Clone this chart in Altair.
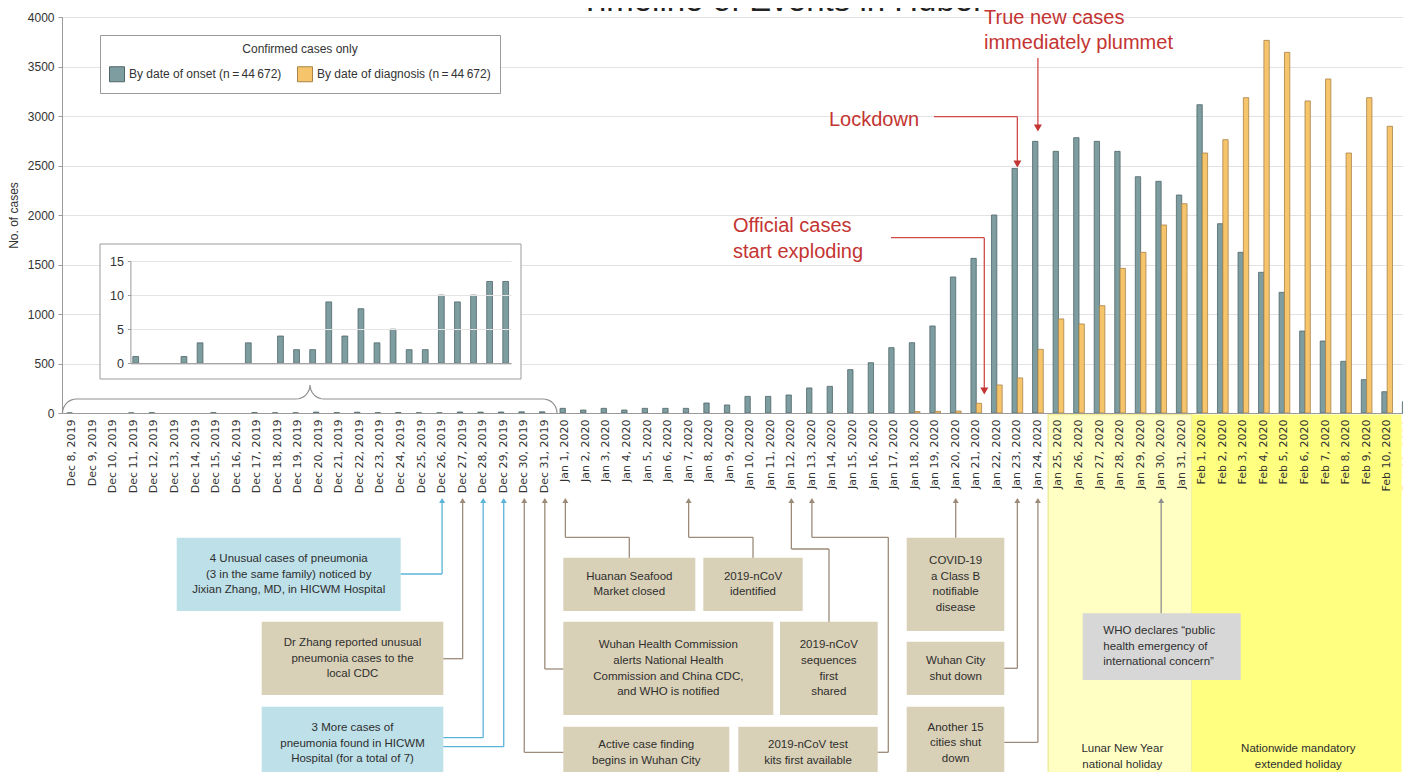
import altair as alt
import pandas as pd
import numpy as np

# ------------------------------------------------------------------ data
dec_days = list(range(8, 32))
jan_days = list(range(1, 32))
feb_days = list(range(1, 12))
dec_labels = [f"Dec {d}, 2019" for d in dec_days]
jan_labels = [f"Jan {d}, 2020" for d in jan_days]
feb_labels = [f"Feb {d}, 2020" for d in feb_days]
date_labels = dec_labels + jan_labels + feb_labels

onset_dec = [1, 0, 0, 1, 3, 0, 0, 3, 0, 4, 2, 2, 9, 4, 8, 3, 5, 2, 2, 10, 9, 10, 12, 12]
onset_jan = [47, 30, 47, 30, 47, 47, 47, 101, 81, 168, 168, 182, 253, 269, 438, 508,
             660, 710, 879, 1374, 1562, 2000, 2471, 2744, 2643, 2781, 2744, 2643,
             2387, 2340, 2202]
onset_feb = [3114, 1912, 1623, 1421, 1219, 828, 727, 522, 337, 215, 114]

diag_dec = [0, 0, 0, 0, 0, 0, 0, 0, 0, 0, 0, 0, 0, 0, 0, 0, 0, 0, 0, 0, 0, 0, 0, 0]
diag_jan = [0, 0, 0, 0, 0, 0, 0, 0, 0, 0, 0, 0, 0, 0, 0, 0, 0,
            15, 17, 20, 98, 283, 354, 643, 950, 899, 1084, 1461, 1623, 1899, 2114]
diag_feb = [2626, 2761, 3185, 3764, 3643, 3152, 3374, 2626, 3185, 2896, 2135]

SERIES = ["By date of onset (n\u2009=\u200944\u2009672)",
          "By date of diagnosis (n\u2009=\u200944\u2009672)"]
y_ticks = [0, 500, 1000, 1500, 2000, 2500, 3000, 3500, 4000]
inset_ticks = [0, 5, 10, 15]

onset = onset_dec + onset_jan + onset_feb
diag = diag_dec + diag_jan + diag_feb
rows = []
for lab, o, d in zip(date_labels, onset, diag):
    if o > 0:
        rows.append({"date": lab, "series": SERIES[0], "cases": o})
    if d > 0:
        rows.append({"date": lab, "series": SERIES[1], "cases": d})
bars_df = pd.DataFrame(rows)
inset_df = pd.DataFrame({"date": dec_labels, "cases": onset_dec})
inset_df = inset_df[inset_df.cases > 0]

# ------------------------------------------------------------------ layout
W, H = 1341, 396
XRANGE = 1356             # the last day runs past the right edge, as in the original
STEP = XRANGE / len(date_labels)
OX, OY = 62, 413          # page position of plot left edge / baseline
TOP = OY - H


def dx(label):
    return (date_labels.index(label) + 0.5) * STEP


def px(x):
    return dx(x) if isinstance(x, str) else x - OX


def py(y):
    return OY - y


TEAL, TEAL_D = "#7e9da0", "#4f6668"
ORANGE, ORANGE_D = "#f5c46b", "#a9834a"
RED = "#c43432"
RED_L = "#cf4a46"
BLUE_L, BROWN_L, GRAY_L = "#5ab4da", "#9c8b79", "#8e8e8e"
BLUE_B, TAN_B, GRAY_B = "#bde0e9", "#d9d1b7", "#d7d7d7"
TXT = "#2e2e2e"
FONT = "Liberation Sans"

# ------------------------------------------------------------------ main bars
main = alt.Chart(bars_df).mark_bar(strokeWidth=0.8).encode(
    x=alt.X("date:N", sort=date_labels,
            scale=alt.Scale(domain=date_labels, range=[0, XRANGE],
                            paddingInner=0.48, paddingOuter=0.24),
            axis=alt.Axis(title=None, labelAngle=270, labelAlign="right",
                          labelBaseline="middle", labelFont="DejaVu Sans",
                          labelFontSize=11, labelColor="#333333", labelPadding=6,
                          ticks=False, domainColor="#9a9a9a", domainWidth=1.2,
                          labelOverlap=False, grid=False, zindex=1)),
    xOffset=alt.XOffset("series:N", sort=SERIES, scale=alt.Scale(domain=SERIES)),
    y=alt.Y("cases:Q", scale=alt.Scale(domain=[0, 4000], nice=False),
            axis=alt.Axis(title="No. of cases", values=y_ticks, format="d", grid=True,
                          gridColor="#e2e2e2", domainColor="#9a9a9a",
                          tickColor="#9a9a9a", tickSize=4, labelPadding=4,
                          labelFont=FONT, labelFontSize=12, labelColor="#333333",
                          titleFont=FONT, titleFontSize=12, titleFontWeight="normal",
                          titleColor="#333333", titlePadding=7)),
    fill=alt.Fill("series:N", scale=alt.Scale(domain=SERIES, range=[TEAL, ORANGE]),
                  legend=alt.Legend(orient="none", legendX=38, legendY=18,
                                    direction="horizontal",
                                    title="Confirmed cases only", titleAnchor="middle",
                                    titleFont=FONT, titleFontSize=12,
                                    titleFontWeight="normal", titleColor="#333333",
                                    titlePadding=10, labelFont=FONT, labelFontSize=12,
                                    labelColor="#333333", labelLimit=400, labelOffset=4,
                                    columnPadding=13, symbolType="square",
                                    symbolSize=225, symbolStrokeColor="#555555",
                                    symbolStrokeWidth=1, padding=9,
                                    strokeColor="#9a9a9a", fillColor="#ffffff")),
    stroke=alt.Stroke("series:N", scale=alt.Scale(domain=SERIES, range=[TEAL_D, ORANGE_D]),
                      legend=None),
)

# ------------------------------------------------------------------ annotation layer
XA = alt.Scale(domain=[0, XRANGE], range=[0, XRANGE], nice=False, zero=False)
YA = alt.Scale(domain=[0, H], range=[H, 0], nice=False, zero=False)


def AX(f="x"):
    return alt.X(f"{f}:Q", scale=XA, axis=None)


def AY(f="y"):
    return alt.Y(f"{f}:Q", scale=YA, axis=None)


def rect_rows(items):
    return pd.DataFrame([{"x": px(a), "x2": px(b), "y": py(c), "y2": py(d), **extra}
                         for a, b, c, d, extra in items])


# holiday bands, bounded by days (band edges)
yellow_df = pd.DataFrame([
    {"x": 48 * STEP, "x2": 55 * STEP, "y": py(414.5), "y2": py(777),
     "fill": "#ffffc4", "stroke": "#f1ec9c"},
    {"x": 55 * STEP, "x2": 65.2 * STEP, "y": py(414.5), "y2": py(780),
     "fill": "#ffff80", "stroke": "transparent"},
])
yellow_l = alt.Chart(yellow_df).mark_rect(strokeWidth=1.5).encode(
    x=AX(), x2=alt.X2("x2"), y=AY(), y2=alt.Y2("y2"),
    fill=alt.Fill("fill:N", scale=None), stroke=alt.Stroke("stroke:N", scale=None))

insetbox_df = rect_rows([(100, 521, 244, 379, {})])
insetbox_l = alt.Chart(insetbox_df).mark_rect(fill="#ffffff", stroke="#9b9b9b",
                                              strokeWidth=1).encode(
    x=AX(), x2=alt.X2("x2"), y=AY(), y2=alt.Y2("y2"))

BOT = 785
boxes_df = rect_rows([
    (176.7, 400.7, 537.7, 611, {"fill": BLUE_B}),
    (261.7, 443.3, 621.7, 695, {"fill": TAN_B}),
    (261.7, 443.3, 706.7, BOT, {"fill": BLUE_B}),
    (563.3, 695.3, 557.7, 611, {"fill": TAN_B}),
    (703.3, 802.7, 557.7, 611, {"fill": TAN_B}),
    (563.3, 773.3, 621.7, 715, {"fill": TAN_B}),
    (780, 877.7, 621.7, 715, {"fill": TAN_B}),
    (563.3, 729.3, 726.7, BOT, {"fill": TAN_B}),
    (738.3, 877.7, 726.7, BOT, {"fill": TAN_B}),
    (906.7, 1004.3, 537.7, 631, {"fill": TAN_B}),
    (906.7, 1004.3, 641.7, 695, {"fill": TAN_B}),
    (906.7, 1004.3, 706.7, BOT, {"fill": TAN_B}),
    (1082.7, 1240.7, 613.3, 680, {"fill": GRAY_B}),
])
boxes_l = alt.Chart(boxes_df).mark_rect().encode(
    x=AX(), x2=alt.X2("x2"), y=AY(), y2=alt.Y2("y2"),
    fill=alt.Fill("fill:N", scale=None))

# connectors: (colour, event date, path from the box toward the date)
ARROW_TOP = 503
connectors = [
    (BLUE_L, "Dec 26, 2019", [(400.7, 574), ("Dec 26, 2019", 574)]),
    (BROWN_L, "Dec 27, 2019", [(443.3, 658.7), ("Dec 27, 2019", 658.7)]),
    (BLUE_L, "Dec 28, 2019", [(443.3, 737.7), ("Dec 28, 2019", 737.7)]),
    (BLUE_L, "Dec 29, 2019", [(443.3, 746.7), ("Dec 29, 2019", 746.7)]),
    (BROWN_L, "Dec 30, 2019", [(563.3, 752.3), ("Dec 30, 2019", 752.3)]),
    (BROWN_L, "Dec 31, 2019", [(563.3, 669), ("Dec 31, 2019", 669)]),
    (BROWN_L, "Jan 1, 2020", [(629.3, 557.7), (629.3, 537.3), ("Jan 1, 2020", 537.3)]),
    (BROWN_L, "Jan 7, 2020", [(753, 557.7), (753, 537.3), ("Jan 7, 2020", 537.3)]),
    (BROWN_L, "Jan 12, 2020", [(829, 621.7), (829, 549), ("Jan 12, 2020", 549)]),
    (BROWN_L, "Jan 13, 2020", [(877.7, 752.3), (888.3, 752.3), (888.3, 537.3),
                               ("Jan 13, 2020", 537.3)]),
    (BROWN_L, "Jan 20, 2020", [("Jan 20, 2020", 537.7)]),
    (BROWN_L, "Jan 23, 2020", [(1004.3, 668.3), ("Jan 23, 2020", 668.3)]),
    (BROWN_L, "Jan 24, 2020", [(1004.3, 742.3), ("Jan 24, 2020", 742.3)]),
    (GRAY_L, "Jan 30, 2020", [("Jan 30, 2020", 613.3)]),
]
red_paths = [
    ([(934, 116.7), ("Jan 23, 2020", 116.7), ("Jan 23, 2020", 161)], ("Jan 23, 2020", 164)),
    ([("Jan 24, 2020", 58), ("Jan 24, 2020", 125)], ("Jan 24, 2020", 128)),
    ([(891, 237.7), (984.3, 237.7), (984.3, 388)], (984.3, 391)),
]

seg_rows, head_rows = [], []
for col, date, path in connectors:
    pts = path + [(date, ARROW_TOP)]
    for (a, b), (c, d) in zip(pts[:-1], pts[1:]):
        seg_rows.append({"x": px(a), "y": py(b), "x2": px(c), "y2": py(d), "c": col})
    head_rows.append({"x": px(date), "y": py(500.5), "c": col,
                      "shape": "triangle-up", "size": 36})
for path, head in red_paths:
    for (a, b), (c, d) in zip(path[:-1], path[1:]):
        seg_rows.append({"x": px(a), "y": py(b), "x2": px(c), "y2": py(d), "c": RED_L})
    head_rows.append({"x": px(head[0]), "y": py(head[1]), "c": RED,
                      "shape": "triangle-down", "size": 64})

conn_l = alt.Chart(pd.DataFrame(seg_rows)).mark_rule(strokeWidth=1.3).encode(
    x=AX(), x2=alt.X2("x2"), y=AY(), y2=alt.Y2("y2"),
    color=alt.Color("c:N", scale=None))
heads_l = alt.Chart(pd.DataFrame(head_rows)).mark_point(filled=True, opacity=1,
                                                        strokeWidth=0).encode(
    x=AX(), y=AY(), color=alt.Color("c:N", scale=None),
    shape=alt.Shape("shape:N", scale=None), size=alt.Size("size:Q", scale=None))


# curly brace over the December days (inset pointer)
def arc(cx, cy, r, a0, a1, n=9):
    t = np.radians(np.linspace(a0, a1, n))
    return [(cx + r * np.cos(a), cy - r * np.sin(a)) for a in t]


brace_pts = (arc(76.5, 413, 14, 180, 90) + arc(296, 385, 14, -90, 0)
             + arc(324, 385, 14, 180, 270) + arc(543, 413, 14, 90, 0))
brace_df = pd.DataFrame([{"x": px(a), "y": py(b), "o": k} for k, (a, b) in enumerate(brace_pts)])
brace_l = alt.Chart(brace_df).mark_line(color="#8f8f8f", strokeWidth=1.2).encode(
    x=AX(), y=AY(), order=alt.Order("o:Q"))

# texts (centre x, [(line, centre y)])
box_text = [
    (288.7, [("4 Unusual cases of pneumonia", 559.3),
             ("(3 in the same family) noticed by", 574.7),
             ("Jixian Zhang, MD, in HICWM Hospital", 590)]),
    (352.5, [("Dr Zhang reported unusual", 643.3), ("pneumonia cases to the", 658.7),
             ("local CDC", 674)]),
    (352.5, [("3 More cases of", 728.3), ("pneumonia found in HICWM", 743.7),
             ("Hospital (for a total of 7)", 758.5)]),
    (629.3, [("Huanan Seafood", 576.7), ("Market closed", 592.3)]),
    (753, [("2019-nCoV", 576.7), ("identified", 592.3)]),
    (668.3, [("Wuhan Health Commission", 645), ("alerts National Health", 660.7),
             ("Commission and China CDC,", 676.7), ("and WHO is notified", 692.3)]),
    (828.8, [("2019-nCoV", 645), ("sequences", 660.7), ("first", 676.7), ("shared", 692.3)]),
    (646.3, [("Active case finding", 745.3), ("begins in Wuhan City", 760.5)]),
    (808, [("2019-nCoV test", 745.3), ("kits first available", 760.5)]),
    (955.6, [("COVID-19", 561), ("a Class B", 576.7), ("notifiable", 592.3), ("disease", 607.7)]),
    (955.6, [("Wuhan City", 661), ("shut down", 676.7)]),
    (955.6, [("Another 15", 727.7), ("cities shut", 743.3), ("down", 758.5)]),
    (1122.3, [("Lunar New Year", 749), ("national holiday", 764.5)]),
    (1298.3, [("Nationwide mandatory", 749), ("extended holiday", 764.5)]),
]
txt_c_df = pd.DataFrame([{"x": px(cx), "y": py(cy), "t": t}
                         for cx, lines in box_text for t, cy in lines])
txt_c = alt.Chart(txt_c_df).mark_text(align="center", baseline="middle", font=FONT,
                                      fontSize=11.5, color=TXT).encode(
    x=AX(), y=AY(), text="t:N")

who_text = [("WHO declares \u201cpublic", 631), ("health emergency of", 646.7),
            ("international concern\u201d", 662.3)]
txt_l_df = pd.DataFrame([{"x": px(1103.3), "y": py(cy), "t": t} for t, cy in who_text])
txt_l = alt.Chart(txt_l_df).mark_text(align="left", baseline="middle", font=FONT,
                                      fontSize=11.5, color=TXT).encode(
    x=AX(), y=AY(), text="t:N")

red_text = [("Lockdown", 829, 126), ("True new cases", 984, 23.5),
            ("immediately plummet", 984, 48.5), ("Official cases", 733, 232),
            ("start exploding", 733, 257.5)]
red_df = pd.DataFrame([{"x": px(a), "y": py(b), "t": t} for t, a, b in red_text])
red_l = alt.Chart(red_df).mark_text(align="left", baseline="alphabetic", font=FONT,
                                    fontSize=20, color=RED).encode(
    x=AX(), y=AY(), text="t:N")

title_df = pd.DataFrame([{"x": px(580), "y": py(11), "t": "Timeline of Events in Hubei"}])
title_l = alt.Chart(title_df).mark_text(align="left", baseline="alphabetic", font=FONT,
                                        fontSize=33, color="#222222").encode(
    x=AX(), y=AY(), text="t:N")

annot = alt.layer(yellow_l, insetbox_l, boxes_l, conn_l, heads_l, brace_l,
                  txt_c, txt_l, red_l, title_l)

# ------------------------------------------------------------------ inset
inset = alt.Chart(inset_df).mark_bar(fill=TEAL, stroke=TEAL_D, strokeWidth=0.8).encode(
    x=alt.X("date:N", sort=dec_labels,
            scale=alt.Scale(domain=dec_labels, range=[px(130.4), px(511)],
                            paddingInner=0.64, paddingOuter=0.15),
            axis=alt.Axis(orient="bottom", offset=-(H - (363.3 - TOP)), labels=False,
                          ticks=False, domainColor="#8a8a8a", grid=False, title=None,
                          zindex=1)),
    y=alt.Y("cases:Q", scale=alt.Scale(domain=[0, 15], range=[363.3 - TOP, 261 - TOP],
                                       nice=False),
            axis=alt.Axis(orient="left", offset=-px(130.4), values=inset_ticks, grid=True,
                          gridColor="#e4e4e4", domainColor="#9a9a9a", tickColor="#9a9a9a",
                          tickSize=3, labelPadding=4, labelFont=FONT, labelFontSize=12.5,
                          labelColor="#333333", title=None, zindex=1)),
)

chart = alt.layer(main, annot, inset).resolve_scale(
    x="independent", y="independent"
).properties(
    width=W, height=H,
    padding={"left": 54, "top": 9, "right": 0, "bottom": 359},
    autosize=alt.AutoSizeParams(type="none"),
).configure_view(stroke=None)

chart.save("out.html", embed_options={"renderer": "svg", "actions": False})
